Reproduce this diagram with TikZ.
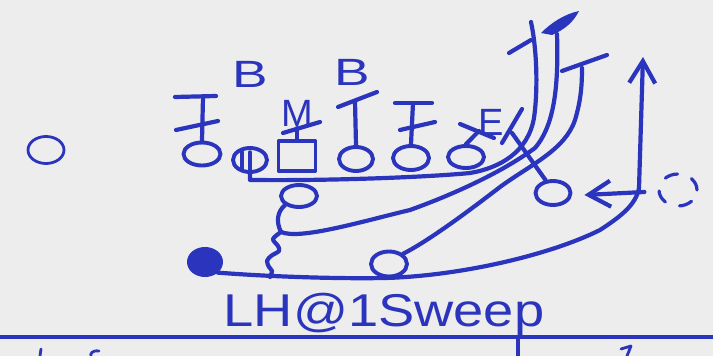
\documentclass[tikz,border=0pt]{standalone}
\usepackage{fontspec}
\setmainfont{Liberation Sans}
\usetikzlibrary{arrows.meta, shapes.geometric, calc}
\definecolor{tinta}{RGB}{42,52,188}
\definecolor{papel}{RGB}{237,237,237}

\begin{document}
\begin{tikzpicture}[
  x=1pt, y=-1pt, color=tinta, line width=4.2pt, line cap=round, line join=round,
  >={Straight Barb[length=22pt, width=26pt]},
  jogador/.style={draw, ellipse, inner sep=0pt, line width=3.9pt},
  centro/.style={draw, rectangle, inner sep=0pt, line width=3.9pt,
                 minimum width=37pt, minimum height=30pt},
  portador/.style={draw, fill, ellipse, inner sep=0pt, line width=2pt},
  defesa/.style={inner sep=0pt, font=\fontsize{38}{38}\selectfont},
]
  \useasboundingbox[fill=papel] (0,0) rectangle (713,356);

  \node[jogador, line width=2.8pt, minimum width=36pt, minimum height=27pt] (se) at (46,150) {};
  \node[jogador, minimum width=37pt, minimum height=23pt] (lt) at (202,154) {};
  \node[jogador, minimum width=34pt, minimum height=24pt] (lg) at (250,160) {};
  \node[centro] (c) at (297,156) {};
  \node[jogador, minimum width=34pt, minimum height=24pt] (rg) at (356,159) {};
  \node[jogador, minimum width=36pt, minimum height=24pt] (rt) at (411,158) {};
  \node[jogador, minimum width=36pt, minimum height=22pt] (te) at (466,157) {};
  \node[jogador, minimum width=36pt, minimum height=22pt] (qb) at (299,196) {};
  \node[jogador, minimum width=36pt, minimum height=25pt] (fb) at (389,264) {};
  \node[jogador, minimum width=35pt, minimum height=24pt] (wb) at (553,193) {};
  \node[jogador, line width=3.2pt, dash pattern=on 13pt off 15pt,
        minimum width=38pt, minimum height=32pt] (mov) at (678,190) {};
  \node[portador, minimum width=34pt, minimum height=28pt] (lh) at (205,262) {};

  \node[defesa, xscale=1.4] (b1) at (250,74) {B};
  \node[defesa, xscale=1.4] (b2) at (352,72) {B};
  \node[defesa] (m) at (297,113) {M};
  \node[defesa] (e) at (491,122) {E};

  \coordinate (ltk) at (203,97);  \coordinate (rgk) at (355,101);
  \coordinate (rtk) at (413,103); \coordinate (tek) at (479,131);
  \coordinate (wbk) at (512,133); \coordinate (br) at (281,232);

  \draw (lt.north) -- (ltk); \draw (ltk) ++(-28,0) -- ++(41,-1); \draw (176,130) -- (218,121);
  \draw (c.north) -- (m.south); \draw (283,133) -- (320,122);
  \draw (rg.north) -- (rgk); \draw (338,107) -- (377,92);
  \draw (rt.north) -- (rtk); \draw (rtk) ++(-18,0) -- ++(37,0); \draw (400,130) -- (435,122);
  \draw (te.north) -- (tek); \draw (460,124) -- (494,138);
  \draw (wb.120) -- (wbk); \draw (522,109) -- (502,143);

  \draw[line width=3.4pt] ($(lg.center)+(-8,-8)$) -- ++(0,17);
  \draw[line width=3.4pt] ($(lg.center)+(0,-8)$) -- (lg.south);
  \draw (lg.south) -- ++(0,6) .. controls (330,181) and (430,177) .. (470,173)
    .. controls (500,168) and (528,152) .. (534,118) .. controls (538,90) and (537,50) .. (531,22);
  \draw (509,53) -- (531,40);

  \draw (qb.south west) .. controls (277,212) and (276,222) .. (br);
  \draw (br) .. controls (300,240) and (360,222) .. (410,210)
    .. controls (460,192) and (505,170) .. (535,148) .. controls (552,128) and (559,95) .. (557,34);
  \fill (541,33) .. controls (552,22) and (565,14) .. (579,11)
    .. controls (574,21) and (566,29) .. (552,35) -- cycle;

  \draw (fb.north east) .. controls (430,240) and (470,210) .. (500,187)
    .. controls (530,165) and (565,150) .. (575,120) .. controls (581,100) and (582,85) .. (582,68);
  \draw (562,71) -- (607,55);

  \draw plot[smooth] coordinates {(br) (273,239) (278,246) (279,251) (271,256) (267,261) (269,267) (272,271) (270,277)};
  \draw[->] (lh.south east) .. controls (260,276) and (330,279) .. (385,278)
    .. controls (460,276) and (550,255) .. (600,230)
    .. controls (620,217) and (636,205) .. (639,188) -- (643,57);
  \draw[->] ($(mov.west)+(-13,2)$) -- ($(wb.east)+(12,2)$);

  \node[font=\fontsize{46}{46}\selectfont, xscale=1.18, anchor=base] (nome) at (384,326) {LH@1Sweep};
  \draw[line width=3.2pt] (0,337) -- (713,337);
  \draw (518,337) -- (518,356);
  \draw[line width=2.8pt] (41,349) -- (40,356);
  \draw[line width=2.8pt] (99,351) .. controls (92,350) and (90,354) .. (91,356);
  \draw[line width=2.8pt] (621,349) -- (631,346) -- (627,356);
\end{tikzpicture}
\end{document}
